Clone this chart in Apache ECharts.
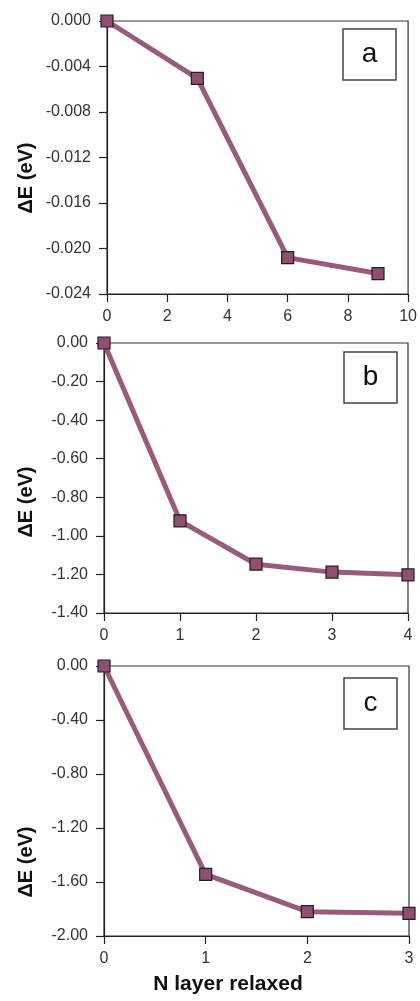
<!DOCTYPE html>
<html>
<head>
<meta charset="utf-8">
<script src="https://cdn.jsdelivr.net/npm/echarts@6/dist/echarts.min.js"></script>
<style>
html,body{margin:0;padding:0;background:#fff;}
#c{width:420px;height:1001px;}
</style>
</head>
<body>
<div id="c"></div>
<script>
// Panel a
const xA = [0, 3, 6, 9];
const yA = [0.0, -0.00504, -0.0208, -0.0222];
// Panel b
const xB = [0, 1, 2, 3, 4];
const yB = [0.0, -0.922, -1.147, -1.188, -1.202];
// Panel c
const xC = [0, 1, 2, 3];
const yC = [0.0, -1.544, -1.820, -1.832];
const panelLabels = ['a', 'b', 'c'];
const yTitle = 'ΔE (eV)';
const xTitle = 'N layer relaxed';

const font = 'Liberation Sans, Arial, sans-serif';
const lineColor = '#9a5a7b';
const markColor = '#8e4f70';

const grids = [
  {left: 107, top: 21, width: 303, height: 273},
  {left: 104, top: 343, width: 304, height: 270},
  {left: 104, top: 666, width: 305, height: 270}
];
const yCfg = [
  {min: -0.024, max: 0, interval: 0.004, dec: 3},
  {min: -1.4, max: 0, interval: 0.2, dec: 2},
  {min: -2.0, max: 0, interval: 0.4, dec: 2}
];
const xCfg = [
  {min: 0, max: 10, interval: 2},
  {min: 0, max: 4, interval: 1},
  {min: 0, max: 3, interval: 1}
];
const datas = [[xA, yA], [xB, yB], [xC, yC]];

const option = {
  backgroundColor: '#fff',
  animation: false,
  grid: grids.map(g => Object.assign({show: true, borderColor: '#333', borderWidth: 1.2, backgroundColor: 'transparent'}, g)),
  xAxis: xCfg.map((c, i) => ({
    type: 'value', gridIndex: i, min: c.min, max: c.max, interval: c.interval,
    position: 'bottom',
    splitLine: {show: false},
    axisLine: {show: true, onZero: false, lineStyle: {color: '#222', width: 1.2}},
    axisTick: {show: true, inside: false, length: 8, lineStyle: {color: '#222', width: 1.2}},
    axisLabel: {color: '#333', fontFamily: font, fontSize: 16, margin: 15}
  })),
  yAxis: yCfg.map((c, i) => ({
    type: 'value', gridIndex: i, min: c.min, max: c.max, interval: c.interval,
    position: 'left',
    splitLine: {show: false},
    axisLine: {show: true, onZero: false, lineStyle: {color: '#222', width: 1.2}},
    axisTick: {show: true, inside: false, length: 8, lineStyle: {color: '#222', width: 1.2}},
    axisLabel: {color: '#333', fontFamily: font, fontSize: 16, margin: 16,
      formatter: v => v.toFixed(c.dec)}
  })),
  series: datas.map((d, i) => ({
    type: 'line', xAxisIndex: i, yAxisIndex: i,
    data: d[0].map((x, k) => [x, d[1][k]]),
    symbol: 'rect', symbolSize: 12,
    lineStyle: {color: lineColor, width: 5},
    itemStyle: {color: markColor, borderColor: '#2a1a22', borderWidth: 1.2},
    z: 3
  })),
  graphic: []
};

const boxes = [
  {x: 343, y: 29}, {x: 344, y: 352}, {x: 344, y: 678}
];
boxes.forEach((b, i) => {
  option.graphic.push({
    type: 'rect', shape: {x: b.x, y: b.y, width: 53, height: 51},
    style: {fill: '#fff', stroke: '#444', lineWidth: 1.5}, z: 10
  });
  option.graphic.push({
    type: 'text', x: b.x + 26.5, y: b.y + 25.5,
    style: {text: panelLabels[i], font: '28px ' + font, fill: '#111', textAlign: 'center', textVerticalAlign: 'middle'},
    z: 11
  });
});
const yCenters = [178, 502, 862];
yCenters.forEach(yc => {
  option.graphic.push({
    type: 'text', x: 26, y: yc, rotation: Math.PI / 2,
    style: {text: yTitle, font: 'bold 20px ' + font, fill: '#111', textAlign: 'center', textVerticalAlign: 'middle'},
    z: 11
  });
});
option.graphic.push({
  type: 'text', x: 228, y: 984,
  style: {text: xTitle, font: 'bold 21px ' + font, fill: '#111', textAlign: 'center', textVerticalAlign: 'middle'},
  z: 11
});

const chart = echarts.init(document.getElementById('c'), null, {renderer: 'canvas'});
chart.setOption(option);
</script>
</body>
</html>
